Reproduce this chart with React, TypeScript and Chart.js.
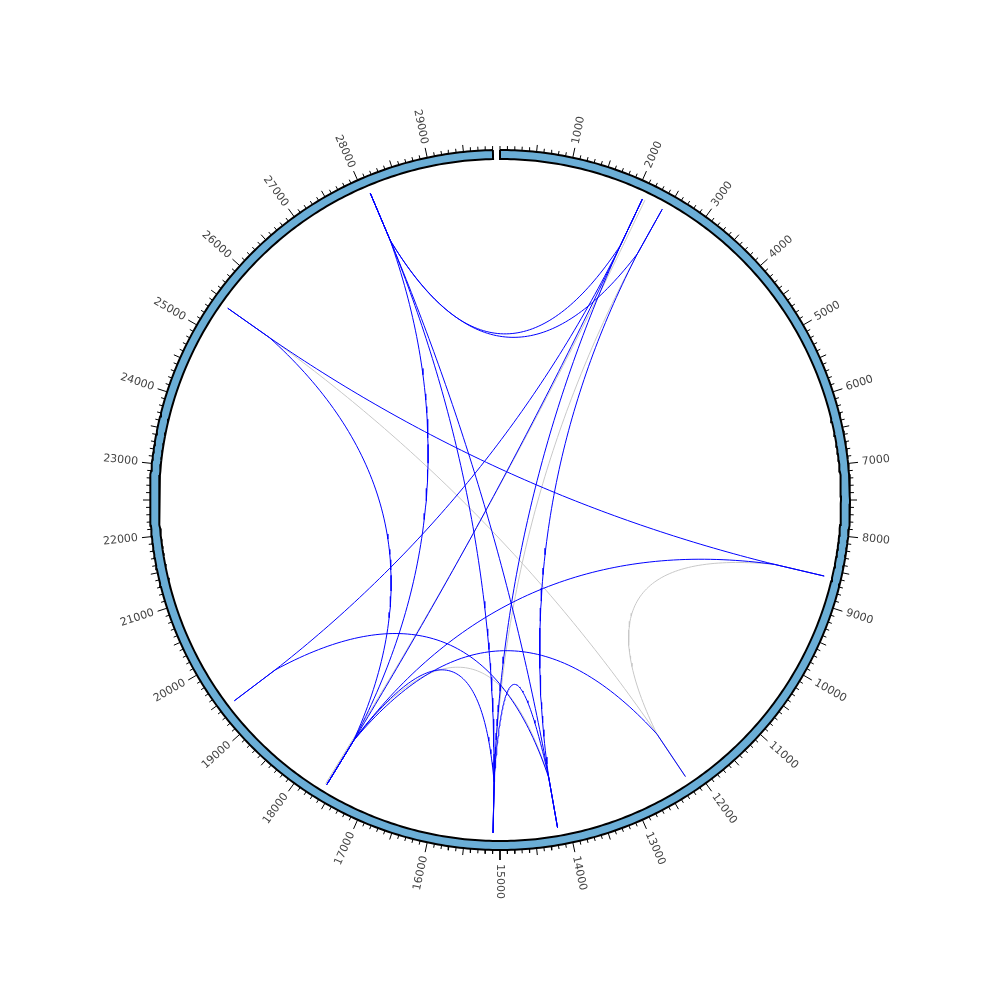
import React, { useEffect, useRef } from 'react';
import { Chart, registerables } from 'chart.js';

Chart.register(...registerables);

// ---- data ----
const GENOME_LENGTH = 29903;
const AXIS_SPAN = 30000; // genome units for one full turn
const TICK_STEP = 100;
const MID_TICK_STEP = 500;
const LABEL_STEP = 1000;
const tickLabels = [
  '1000', '2000', '3000', '4000', '5000', '6000', '7000', '8000', '9000', '10000',
  '11000', '12000', '13000', '14000', '15000', '16000', '17000', '18000', '19000', '20000',
  '21000', '22000', '23000', '24000', '25000', '26000', '27000', '28000', '29000',
];
const tickLabelPositions = [
  1000, 2000, 3000, 4000, 5000, 6000, 7000, 8000, 9000, 10000,
  11000, 12000, 13000, 14000, 15000, 16000, 17000, 18000, 19000, 20000,
  21000, 22000, 23000, 24000, 25000, 26000, 27000, 28000, 29000,
];

// links (genome positions of the two ends)
const linkFrom = [
  28090, 28090, 28090, 28090, 28090, 2110, 2110, 2110, 2430, 25430,
  25430, 8600, 12180, 17610, 15100, 19410,
  25430, 8600, 2150, 2430, 17630,
];
const linkTo = [
  2110, 2430, 17610, 15100, 14170, 19410, 17610, 15100, 14170, 8600,
  17610, 17610, 17610, 15100, 14170, 14170,
  12180, 12180, 17630, 15100, 14170,
];
const linkKind = [
  'blue', 'blue', 'blue', 'blue', 'blue', 'blue', 'blue', 'blue', 'blue', 'blue',
  'blue', 'blue', 'blue', 'blue', 'blue', 'blue',
  'grey', 'grey', 'grey', 'grey', 'grey',
];

// ---- geometry (in units of the ring's outer radius) ----
const VIEW_HALF = 500 / 350;
const RING_OUTER = 1;
const RING_INNER = 341 / 350;
const LINK_RADIUS = 333 / 350;
const CREST_RADIUS = 282 / 350;
const BEZIER_RADIUS = 90 / 350;
const MINOR_TICK = 4 / 350;
const MID_TICK = 7 / 350;
const MAJOR_TICK = 10 / 350;
const LABEL_RADIUS = 364 / 350;

const COLORS: Record<string, string> = { blue: 'rgb(0,0,255)', grey: 'rgb(200,200,200)' };

const angleOf = (pos: number) => (pos / AXIS_SPAN) * Math.PI * 2;
const polar = (pos: number, r: number) => {
  const a = angleOf(pos);
  return { x: r * Math.sin(a), y: r * Math.cos(a) };
};
const polarA = (a: number, r: number) => ({ x: r * Math.sin(a), y: r * Math.cos(a) });

function ringPoints() {
  const pts: { x: number; y: number }[] = [];
  for (let p = 0; p <= GENOME_LENGTH; p += 50) pts.push(polar(p, RING_OUTER));
  pts.push(polar(GENOME_LENGTH, RING_OUTER));
  pts.push(polar(GENOME_LENGTH, RING_INNER));
  for (let p = Math.floor(GENOME_LENGTH / 50) * 50; p >= 0; p -= 50) pts.push(polar(p, RING_INNER));
  pts.push(polar(0, RING_OUTER));
  return pts;
}

function tickPoints() {
  const pts: { x: number | null; y: number | null }[] = [];
  for (let p = 0; p <= GENOME_LENGTH; p += TICK_STEP) {
    const len = p === 0 ? MINOR_TICK : p % LABEL_STEP === 0 ? MAJOR_TICK : p % MID_TICK_STEP === 0 ? MID_TICK : MINOR_TICK;
    pts.push(polar(p, RING_OUTER));
    pts.push(polar(p, RING_OUTER + len));
    pts.push({ x: null, y: null });
  }
  return pts;
}

function linkPoints(from: number, to: number) {
  const a1 = angleOf(from);
  const a2 = angleOf(to);
  let d = a2 - a1;
  while (d > Math.PI) d -= 2 * Math.PI;
  while (d < -Math.PI) d += 2 * Math.PI;
  const mid = a1 + d / 2;
  const half = Math.abs(d) / 2;
  const rb = BEZIER_RADIUS * Math.cos(half) * Math.cos(half);
  const p0 = polarA(a1, LINK_RADIUS);
  const q1 = polarA(a1, CREST_RADIUS);
  const c = polarA(mid, rb);
  const q2 = polarA(a2, CREST_RADIUS);
  const p4 = polarA(a2, LINK_RADIUS);
  const pts = [p0];
  const n = 80;
  for (let i = 0; i <= n; i++) {
    const t = i / n;
    const u = 1 - t;
    pts.push({
      x: u * u * q1.x + 2 * u * t * c.x + t * t * q2.x,
      y: u * u * q1.y + 2 * u * t * c.y + t * t * q2.y,
    });
  }
  pts.push(p4);
  return pts;
}

const labelPlugin = {
  id: 'circularLabels',
  afterDatasetsDraw(chart: any) {
    const { ctx } = chart;
    const xs = chart.scales.x;
    const ys = chart.scales.y;
    const cx = xs.getPixelForValue(0);
    const cy = ys.getPixelForValue(0);
    const unit = xs.getPixelForValue(1) - cx;
    ctx.save();
    ctx.font = '11px "DejaVu Sans", sans-serif';
    ctx.fillStyle = '#444444';
    ctx.textBaseline = 'middle';
    tickLabelPositions.forEach((pos, i) => {
      const a = angleOf(pos);
      const r = LABEL_RADIUS * unit;
      const px = cx + r * Math.sin(a);
      const py = cy - r * Math.cos(a);
      ctx.save();
      ctx.translate(px, py);
      if (a <= Math.PI + 1e-9) {
        ctx.rotate(a - Math.PI / 2);
        ctx.textAlign = 'left';
      } else {
        ctx.rotate(a + Math.PI / 2);
        ctx.textAlign = 'right';
      }
      ctx.fillText(tickLabels[i], 0, 0);
      ctx.restore();
    });
    ctx.restore();
  },
};

export default function App() {
  const ref = useRef<HTMLCanvasElement | null>(null);
  useEffect(() => {
    if (!ref.current) return;
    const linkSets = linkFrom.map((f, i) => ({
      data: linkPoints(f, linkTo[i]),
      showLine: true,
      borderColor: COLORS[linkKind[i]],
      borderWidth: 1,
      pointRadius: 0,
      fill: false,
      tension: 0,
      order: linkKind[i] === 'blue' ? 1 : 2,
    }));
    const chart = new Chart(ref.current, {
      type: 'scatter',
      data: {
        datasets: [
          ...linkSets,
          {
            data: tickPoints(),
            showLine: true,
            spanGaps: false,
            borderColor: '#000000',
            borderWidth: 1,
            pointRadius: 0,
            fill: false,
            order: 3,
          },
          {
            data: ringPoints(),
            showLine: true,
            borderColor: '#000000',
            borderWidth: 2,
            backgroundColor: '#6baed6',
            pointRadius: 0,
            fill: 'shape',
            order: 4,
          },
        ] as any,
      },
      options: {
        animation: false,
        responsive: true,
        maintainAspectRatio: false,
        events: [],
        layout: { padding: 0 },
        plugins: { legend: { display: false }, tooltip: { enabled: false } },
        scales: {
          x: { type: 'linear', min: -VIEW_HALF, max: VIEW_HALF, display: false },
          y: { type: 'linear', min: -VIEW_HALF, max: VIEW_HALF, display: false },
        },
      },
      plugins: [labelPlugin],
    });
    return () => chart.destroy();
  }, []);
  return (
    <div style={{ position: 'fixed', left: 0, top: 0, width: 1000, height: 1000, background: '#ffffff' }}>
      <canvas ref={ref} />
    </div>
  );
}
